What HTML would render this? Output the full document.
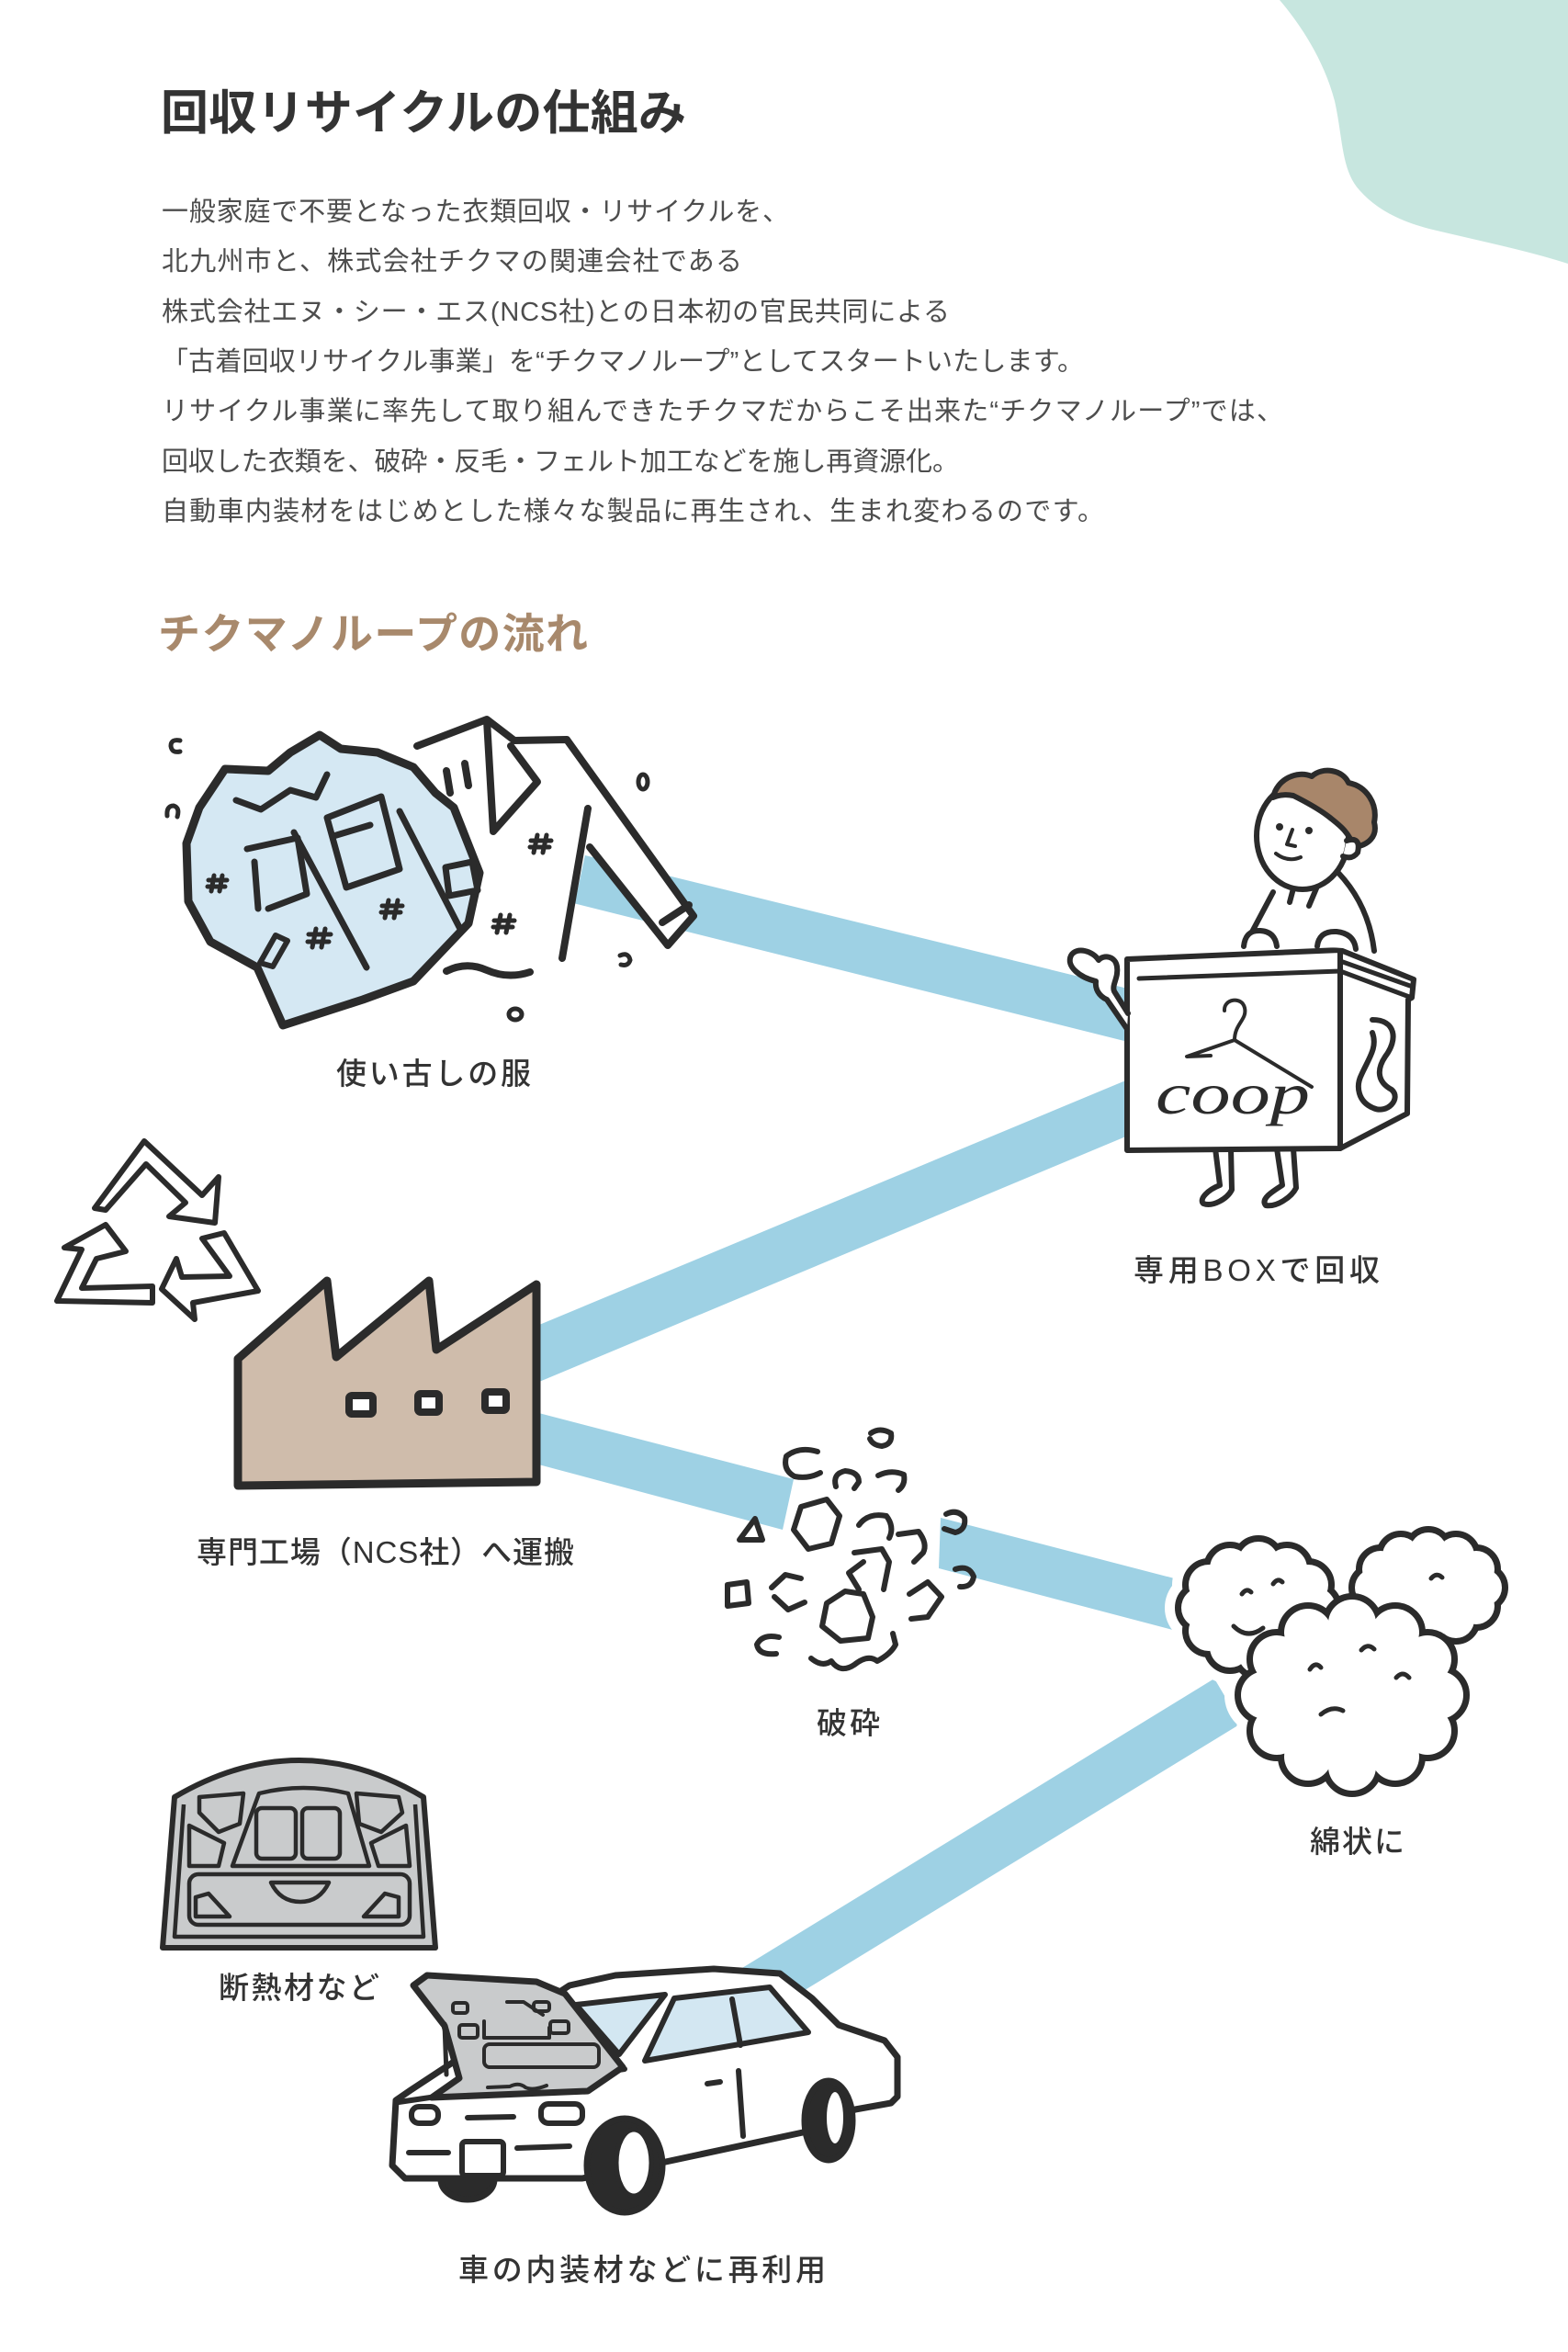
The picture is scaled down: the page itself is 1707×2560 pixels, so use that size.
<!DOCTYPE html>
<html><head><meta charset="utf-8">
<style>
html,body{margin:0;padding:0;background:#fff;width:1707px;height:2560px;overflow:hidden}
svg{display:block}
text{font-family:"Liberation Sans","Noto Sans CJK JP",sans-serif}
</style></head>
<body>
<svg width="1707" height="2560" viewBox="0 0 1707 2560" xmlns="http://www.w3.org/2000/svg">
<defs>
  <g id="cl1">
    <ellipse cx="1370" cy="1750" rx="62" ry="52"/>
    <circle cx="1432" cy="1750" r="22"/><circle cx="1424" cy="1725" r="22"/><circle cx="1401" cy="1707" r="22"/>
    <circle cx="1370" cy="1700" r="22"/><circle cx="1339" cy="1707" r="22"/><circle cx="1316" cy="1725" r="22"/>
    <circle cx="1308" cy="1750" r="22"/><circle cx="1316" cy="1775" r="22"/><circle cx="1339" cy="1793" r="22"/>
    <circle cx="1370" cy="1800" r="22"/><circle cx="1401" cy="1793" r="22"/><circle cx="1424" cy="1775" r="22"/>
  </g>
  <g id="cl2">
    <ellipse cx="1555" cy="1728" rx="60" ry="40"/>
    <circle cx="1615" cy="1728" r="20"/><circle cx="1607" cy="1708" r="20"/><circle cx="1585" cy="1693" r="20"/>
    <circle cx="1555" cy="1688" r="20"/><circle cx="1525" cy="1693" r="20"/><circle cx="1503" cy="1708" r="20"/>
    <circle cx="1495" cy="1728" r="20"/><circle cx="1503" cy="1748" r="20"/><circle cx="1525" cy="1763" r="20"/>
    <circle cx="1555" cy="1768" r="20"/><circle cx="1585" cy="1763" r="20"/><circle cx="1607" cy="1748" r="20"/>
  </g>
  <g id="cl3">
    <ellipse cx="1472" cy="1845" rx="95" ry="78"/>
    <circle cx="1567" cy="1845" r="26"/><circle cx="1554" cy="1806" r="26"/><circle cx="1519" cy="1777" r="26"/>
    <circle cx="1472" cy="1767" r="26"/><circle cx="1424" cy="1777" r="26"/><circle cx="1390" cy="1806" r="26"/>
    <circle cx="1377" cy="1845" r="26"/><circle cx="1390" cy="1884" r="26"/><circle cx="1424" cy="1912" r="26"/>
    <circle cx="1472" cy="1923" r="26"/><circle cx="1519" cy="1912" r="26"/><circle cx="1554" cy="1884" r="26"/>
  </g>
</defs>

<!-- teal blob -->
<path d="M1393,0 C1410,20 1440,60 1453,110 C1462,150 1460,185 1480,207 C1500,230 1530,243 1560,250 C1610,262 1660,272 1707,287 L1707,0 Z" fill="#c7e6df"/>

<!-- heading + paragraph -->
<text x="175" y="141" font-size="52" font-weight="700" fill="#333" textLength="572" lengthAdjust="spacing">回収リサイクルの仕組み</text>
<g font-size="29" fill="#4d4d4d">
  <text x="176" y="240" textLength="683" lengthAdjust="spacing">一般家庭で不要となった衣類回収・リサイクルを、</text>
  <text x="176" y="294" textLength="632" lengthAdjust="spacing">北九州市と、株式会社チクマの関連会社である</text>
  <text x="176" y="349" textLength="858" lengthAdjust="spacing">株式会社エヌ・シー・エス(NCS社)との日本初の官民共同による</text>
  <text x="176" y="403" textLength="1004" lengthAdjust="spacing">「古着回収リサイクル事業」を“チクマノループ”としてスタートいたします。</text>
  <text x="176" y="457" textLength="1221" lengthAdjust="spacing">リサイクル事業に率先して取り組んできたチクマだからこそ出来た“チクマノループ”では、</text>
  <text x="176" y="512" textLength="868" lengthAdjust="spacing">回収した衣類を、破砕・反毛・フェルト加工などを施し再資源化。</text>
  <text x="176" y="566" textLength="1026" lengthAdjust="spacing">自動車内装材をはじめとした様々な製品に再生され、生まれ変わるのです。</text>
</g>
<text x="172" y="706" font-size="46" font-weight="700" fill="#a8896c" textLength="468" lengthAdjust="spacing">チクマノループの流れ</text>

<!-- bands -->
<g fill="#9ed1e4">
  <polygon points="580,917 1240,1079 1240,1137 580,972"/>
  <polygon points="575,1447 1240,1170 1240,1231 575,1509"/>
  <polygon points="575,1535 864,1610 852,1665 575,1591"/>
  <polygon points="1024,1652 1290,1721 1288,1777 1022,1707"/>
  <polygon points="808,2142 1322,1827 1351,1876 873,2168"/>
</g>

<!-- recycle symbol -->
<g fill="#fff" stroke="#2b2b2b" stroke-width="6" stroke-linejoin="round">
  <polygon points="103,1315 157,1242 220,1301 238,1281 234,1331 184,1324 202,1309 159,1267 115,1317"/>
  <polygon points="166,1400 89,1402 105,1370 137,1362 115,1333 70,1358 89,1360 62,1416 166,1418"/>
  <polygon points="220,1348 244,1342 281,1405 210,1418 212,1436 176,1403 192,1370 198,1390 250,1389"/>
</g>

<!-- white shirt -->
<g stroke="#2b2b2b" stroke-width="8" stroke-linecap="round" stroke-linejoin="round">
  <polygon points="458,811 530,782 617,805 755,997 727,1029 640,916 613,1043 577,1060 490,1057 478,1005 466,863" fill="#fff" stroke="none"/>
  <path d="M454,812 L530,783 L560,806 L617,805 L755,997 L727,1029 L642,922" fill="none"/>
  <path d="M721,1004 L750,985" fill="none"/>
  <path d="M640,880 L612,1043" fill="none"/>
  <path d="M530,784 L537,905 L585,851 L556,812" fill="none"/>
  <path d="M486,839 L490,863 M506,831 L510,855" fill="none"/>
  <path d="M486,1057 Q508,1046 530,1056 Q553,1066 577,1058" fill="none"/>
  <path d="M585,909 L581,928 M595,909 L591,928 M578,915 L600,915 M577,922 L598,922" stroke-width="5" fill="none"/>
  <path d="M545,996 L541,1015 M555,996 L551,1015 M538,1002 L560,1002 M537,1009 L558,1009" stroke-width="5" fill="none"/>
</g>

<!-- blue jacket -->
<g stroke="#2b2b2b" stroke-width="9" stroke-linecap="round" stroke-linejoin="round">
  <polygon points="245,837 292,839 316,819 348,800 371,815 411,819 450,835 474,863 494,879 522,950 510,1005 450,1068 395,1088 308,1116 280,1053 229,1025 205,981 203,918 217,879" fill="#d5e8f3"/>
  <path d="M485,944 L514,938 L520,969 L489,975 Z" fill="#d5e8f3" stroke-width="7"/>
  <path d="M283,1048 L300,1018 L313,1024 L297,1052 Z" fill="#d5e8f3" stroke-width="6"/>
  <g fill="none" stroke-width="7">
    <path d="M257,871 L284,881 L316,860 L344,868 L356,843"/>
    <path d="M269,924 L324,912 L334,973 L292,989"/>
    <path d="M277,938 L281,989"/>
    <path d="M356,890 L415,867 L435,946 L377,966 Z"/>
    <path d="M363,910 L403,898"/>
    <path d="M320,906 L399,1053"/>
    <path d="M435,883 L502,1013"/>
  </g>
  <g fill="none" stroke-width="5">
    <path d="M233,953 L230,970 M242,953 L239,970 M227,958 L247,958 M226,965 L245,965"/>
    <path d="M344,1011 L340,1031 M354,1011 L350,1031 M336,1017 L360,1017 M335,1025 L358,1025"/>
    <path d="M423,980 L419,999 M433,980 L429,999 M416,986 L438,986 M415,993 L436,993"/>
  </g>
</g>
<!-- clothes specks -->
<g fill="none" stroke="#2b2b2b" stroke-width="5" stroke-linecap="round">
  <ellipse cx="700" cy="851" rx="5" ry="8"/>
  <ellipse cx="561" cy="1104" rx="7" ry="6"/>
  <path d="M675,1040 Q684,1036 686,1045 Q684,1052 676,1050"/>
  <path d="M196,806 Q186,804 186,812 Q187,820 196,818"/>
  <path d="M182,888 Q181,877 189,877 Q196,879 193,889"/>
</g>

<!-- person -->
<g stroke="#2b2b2b" stroke-width="6" stroke-linecap="round" stroke-linejoin="round">
  <path d="M1386,971 L1360,1020 M1457,950 Q1490,985 1496,1035" fill="none"/>
  <path d="M1408,967 L1404,982 M1436,960 L1425,986" fill="none"/>
  <ellipse cx="1418" cy="910" rx="50" ry="58" fill="#fff"/>
  <path d="M1386,868 C1390,848 1412,838 1428,845 C1440,834 1462,838 1468,852 C1488,856 1500,875 1496,895 C1500,910 1490,920 1474,922 C1468,905 1458,898 1448,890 C1438,882 1420,872 1408,866 C1398,864 1390,866 1386,868 Z" fill="#a8866a"/>
  <path d="M1466,915 Q1482,910 1478,928 Q1472,936 1462,932" fill="#fff"/>
  <circle cx="1393" cy="900" r="4" fill="#2b2b2b" stroke="none"/>
  <circle cx="1425" cy="904" r="4" fill="#2b2b2b" stroke="none"/>
  <path d="M1407,903 L1401,919 L1410,921" fill="none" stroke-width="4"/>
  <path d="M1389,929 Q1402,939 1416,933" fill="none" stroke-width="4"/>
  <!-- legs -->
  <path d="M1323,1250 L1328,1290 C1315,1295 1305,1305 1310,1310 C1320,1314 1336,1305 1341,1295 L1340,1250 Z" fill="#fff"/>
  <path d="M1390,1250 L1396,1290 C1385,1297 1372,1305 1378,1312 C1390,1314 1406,1303 1411,1293 L1408,1250 Z" fill="#fff"/>
  <!-- box -->
  <path d="M1459,1034 L1539,1066 L1537,1086 L1533,1088 L1532,1212 L1459,1250 Z" fill="#fff"/>
  <path d="M1227,1044 L1459,1034 L1459,1250 L1227,1252 Z" fill="#fff"/>
  <path d="M1240,1065 L1459,1057 L1537,1086 M1459,1046 L1535,1073 M1459,1080 L1459,1216" fill="none" stroke-width="5"/>
  <!-- hands on top -->
  <path d="M1354,1030 Q1356,1012 1372,1013 Q1388,1014 1390,1030" fill="#fff"/>
  <path d="M1434,1030 Q1436,1013 1455,1014 Q1474,1016 1476,1033" fill="#fff"/>
  <!-- mitten arm -->
  <path d="M1227,1120 L1205,1088 C1196,1084 1192,1076 1193,1068 C1176,1064 1160,1052 1166,1040 C1172,1030 1190,1035 1196,1045 C1201,1039 1214,1040 1216,1052 C1218,1064 1210,1072 1213,1079 L1228,1103" fill="#fff"/>
  <!-- side handle -->
  <path d="M1494,1110 C1520,1110 1522,1132 1508,1150 C1498,1165 1500,1178 1515,1186 C1526,1196 1510,1213 1495,1206 C1478,1199 1476,1182 1482,1170 C1490,1152 1500,1140 1494,1124" fill="none"/>
  <!-- hanger logo -->
  <path d="M1333,1100 C1332,1087 1352,1084 1355,1097 C1358,1110 1344,1114 1344,1132 M1344,1132 L1292,1150 L1318,1149 M1344,1132 L1428,1183" fill="none" stroke-width="4"/>
</g>
<text x="1258" y="1212" style="font-family:'Liberation Serif',serif;font-style:italic;font-size:64px;font-weight:400" fill="#2b2b2b" textLength="168" lengthAdjust="spacingAndGlyphs">coop</text>

<!-- factory -->
<polygon points="259,1617 259,1479 356,1394 366,1477 467,1394 475,1469 584,1398 584,1613" fill="#cfbcab" stroke="#2b2b2b" stroke-width="9" stroke-linejoin="round"/>
<g fill="#fff" stroke="#2b2b2b" stroke-width="8">
  <rect x="380" y="1519" width="26" height="20" rx="3"/>
  <rect x="455" y="1517" width="23" height="20" rx="3"/>
  <rect x="528" y="1515" width="23" height="20" rx="3"/>
</g>

<!-- debris -->
<g fill="#fff" stroke="#2b2b2b" stroke-width="6" stroke-linecap="round" stroke-linejoin="round">
  <path d="M948,1560 Q958,1553 970,1560 Q972,1572 960,1574 Q950,1573 947,1566" fill="none"/>
  <path d="M890,1580 Q870,1574 856,1585 Q852,1600 865,1607 Q880,1610 893,1603" fill="none"/>
  <path d="M910,1618 Q906,1604 920,1601 Q935,1602 935,1613 L930,1620" fill="none"/>
  <path d="M956,1606 Q970,1599 984,1605 Q986,1616 978,1622" fill="none"/>
  <path d="M805,1676 L822,1653 L830,1676 Z"/>
  <path d="M872,1640 L900,1632 L914,1650 L905,1680 L880,1686 L864,1665 Z"/>
  <path d="M935,1660 Q945,1646 965,1650 Q974,1662 968,1674" fill="none"/>
  <path d="M1030,1648 Q1042,1642 1050,1652 Q1052,1665 1040,1668 L1028,1664" fill="none"/>
  <path d="M978,1670 L1000,1667 Q1010,1680 1005,1690 L995,1700" fill="none"/>
  <path d="M930,1690 L960,1686 L968,1700 L962,1730 M940,1700 L924,1712 L935,1730" fill="none"/>
  <path d="M792,1725 L813,1722 L815,1745 L792,1748 Z"/>
  <path d="M840,1728 L855,1714 L872,1718 M843,1738 L858,1752 L876,1744" fill="none"/>
  <path d="M900,1745 L920,1732 L940,1735 L950,1760 L945,1783 L915,1786 L895,1770 Z"/>
  <path d="M990,1735 L1010,1722 L1025,1738 L1010,1760 L992,1762" fill="none"/>
  <path d="M1040,1708 Q1055,1703 1060,1716 Q1058,1728 1045,1727" fill="none"/>
  <path d="M848,1782 Q830,1778 824,1790 Q826,1802 845,1800" fill="none"/>
  <path d="M883,1805 Q895,1815 905,1808 Q915,1822 930,1812 Q945,1800 955,1808 Q970,1800 975,1790 L972,1778" fill="none"/>
</g>

<!-- clouds -->
<use href="#cl1" fill="#fff" stroke="#fff" stroke-width="36"/>
<use href="#cl2" fill="#fff" stroke="#fff" stroke-width="36"/>
<use href="#cl3" fill="#fff" stroke="#fff" stroke-width="36"/>
<use href="#cl2" fill="#2b2b2b" stroke="#2b2b2b" stroke-width="14"/>
<use href="#cl2" fill="#fff"/>
<use href="#cl1" fill="#2b2b2b" stroke="#2b2b2b" stroke-width="14"/>
<use href="#cl1" fill="#fff"/>
<use href="#cl3" fill="#2b2b2b" stroke="#2b2b2b" stroke-width="14"/>
<use href="#cl3" fill="#fff"/>
<g fill="none" stroke="#2b2b2b" stroke-width="5" stroke-linecap="round">
  <path d="M1352,1735 Q1357,1728 1362,1733"/>
  <path d="M1386,1724 Q1391,1717 1396,1722"/>
  <path d="M1343,1770 Q1358,1785 1375,1772"/>
  <path d="M1558,1718 Q1564,1711 1570,1717"/>
  <path d="M1426,1817 Q1432,1808 1438,1815"/>
  <path d="M1482,1796 Q1489,1788 1496,1795"/>
  <path d="M1520,1826 Q1527,1818 1534,1826"/>
  <path d="M1438,1866 Q1450,1856 1462,1862"/>
</g>

<!-- insulation panel -->
<path d="M177,2120 L190,1956 Q326,1876 461,1956 L474,2120 Z" fill="#c9cbcc" stroke="#2b2b2b" stroke-width="6" stroke-linejoin="round"/>
<g fill="none" stroke="#2b2b2b" stroke-width="4.5" stroke-linejoin="round">
  <path d="M200,1964 L190,2108 L461,2108 L452,1964"/>
  <path d="M253,2031 L282,1952 Q330,1940 379,1952 L402,2031 Z"/>
  <rect x="279" y="1968" width="43" height="55" rx="6"/>
  <rect x="329" y="1968" width="41" height="55" rx="6"/>
  <polygon points="217,1956 265,1952 261,1985 238,1994 217,1973"/>
  <polygon points="206,1987 244,2006 238,2031 206,2031"/>
  <polygon points="388,1952 434,1956 438,1973 415,1994 391,1985"/>
  <polygon points="404,2006 442,1987 446,2031 412,2031"/>
  <rect x="206" y="2040" width="240" height="55" rx="10"/>
  <polygon points="213,2065 227,2061 250,2086 213,2086"/>
  <polygon points="396,2086 419,2061 434,2065 434,2086"/>
  <path d="M295,2049 L358,2049 Q348,2070 327,2070 Q305,2070 295,2049 Z"/>
</g>

<!-- car -->
<g stroke="#2b2b2b" stroke-width="7" stroke-linecap="round" stroke-linejoin="round">
  <ellipse cx="509" cy="2372" rx="29" ry="22" fill="#2b2b2b"/>
  <path d="M431,2286 L447,2275 L620,2161 L670,2150 L777,2143 L849,2148 L884,2175 L913,2204 L963,2221 L977,2239 L977,2282 L970,2289 L931,2296 L874,2321 L720,2354 L634,2371 L441,2371 L427,2357 Z" fill="#fff"/>
  <polygon points="627,2182 724,2171 674,2236" fill="#d3e7f2" stroke-width="6"/>
  <polygon points="702,2243 734,2175 838,2163 880,2212" fill="#d3e7f2" stroke-width="6"/>
  <path d="M797,2176 L806,2226" fill="none" stroke-width="6"/>
  <path d="M434,2288 L680,2252" fill="none" stroke-width="6"/>
  <polygon points="450,2161 465,2150 584,2157 615,2170 678,2250 640,2276 470,2283 500,2262 484,2205" fill="#c9cbcc"/>
  <path d="M484,2203 L486,2258" fill="none" stroke-width="5"/>
  <g fill="none" stroke-width="4">
    <rect x="527" y="2225" width="125" height="25" rx="6"/>
    <rect x="493" y="2180" width="16" height="11" rx="3"/>
    <rect x="500" y="2204" width="20" height="14" rx="3"/>
    <path d="M527,2200 L527,2218 L598,2218 L598,2207"/>
    <path d="M552,2179 L570,2179 L591,2193"/>
    <rect x="581" y="2179" width="17" height="10" rx="3"/>
    <rect x="599" y="2200" width="20" height="13" rx="3"/>
    <path d="M531,2272 L555,2271 Q565,2266 572,2272 Q580,2276 595,2270"/>
  </g>
  <rect x="448" y="2293" width="29" height="18" rx="8" fill="#fff" stroke-width="6"/>
  <rect x="589" y="2290" width="45" height="21" rx="8" fill="#fff" stroke-width="6"/>
  <path d="M509,2305 L559,2304 M445,2343 L488,2343 M563,2338 L620,2336" fill="none" stroke-width="6"/>
  <rect x="503" y="2331" width="45" height="37" rx="4" fill="#fff" stroke-width="6"/>
  <path d="M804,2254 L809,2325 M770,2268 L784,2266" fill="none" stroke-width="6"/>
  <ellipse cx="680" cy="2357" rx="41" ry="51" fill="#2b2b2b"/>
  <ellipse cx="690" cy="2354" rx="19" ry="36" fill="#fff" stroke-width="5"/>
  <ellipse cx="902" cy="2308" rx="26" ry="43" fill="#2b2b2b"/>
  <ellipse cx="909" cy="2305" rx="11" ry="30" fill="#fff" stroke-width="4"/>
</g>

<!-- labels -->
<g font-size="33" font-weight="500" fill="#333">
  <text x="366" y="1180" textLength="212" lengthAdjust="spacing">使い古しの服</text>
  <text x="1234" y="1394" textLength="268" lengthAdjust="spacing">専用BOXで回収</text>
  <text x="214" y="1701" textLength="411" lengthAdjust="spacing">専門工場（NCS社）へ運搬</text>
  <text x="889" y="1887" textLength="69" lengthAdjust="spacing">破砕</text>
  <text x="1426" y="2016" textLength="103" lengthAdjust="spacing">綿状に</text>
  <text x="238" y="2175" textLength="175" lengthAdjust="spacing">断熱材など</text>
  <text x="499" y="2482" textLength="400" lengthAdjust="spacing">車の内装材などに再利用</text>
</g>
</svg>
</body></html>
